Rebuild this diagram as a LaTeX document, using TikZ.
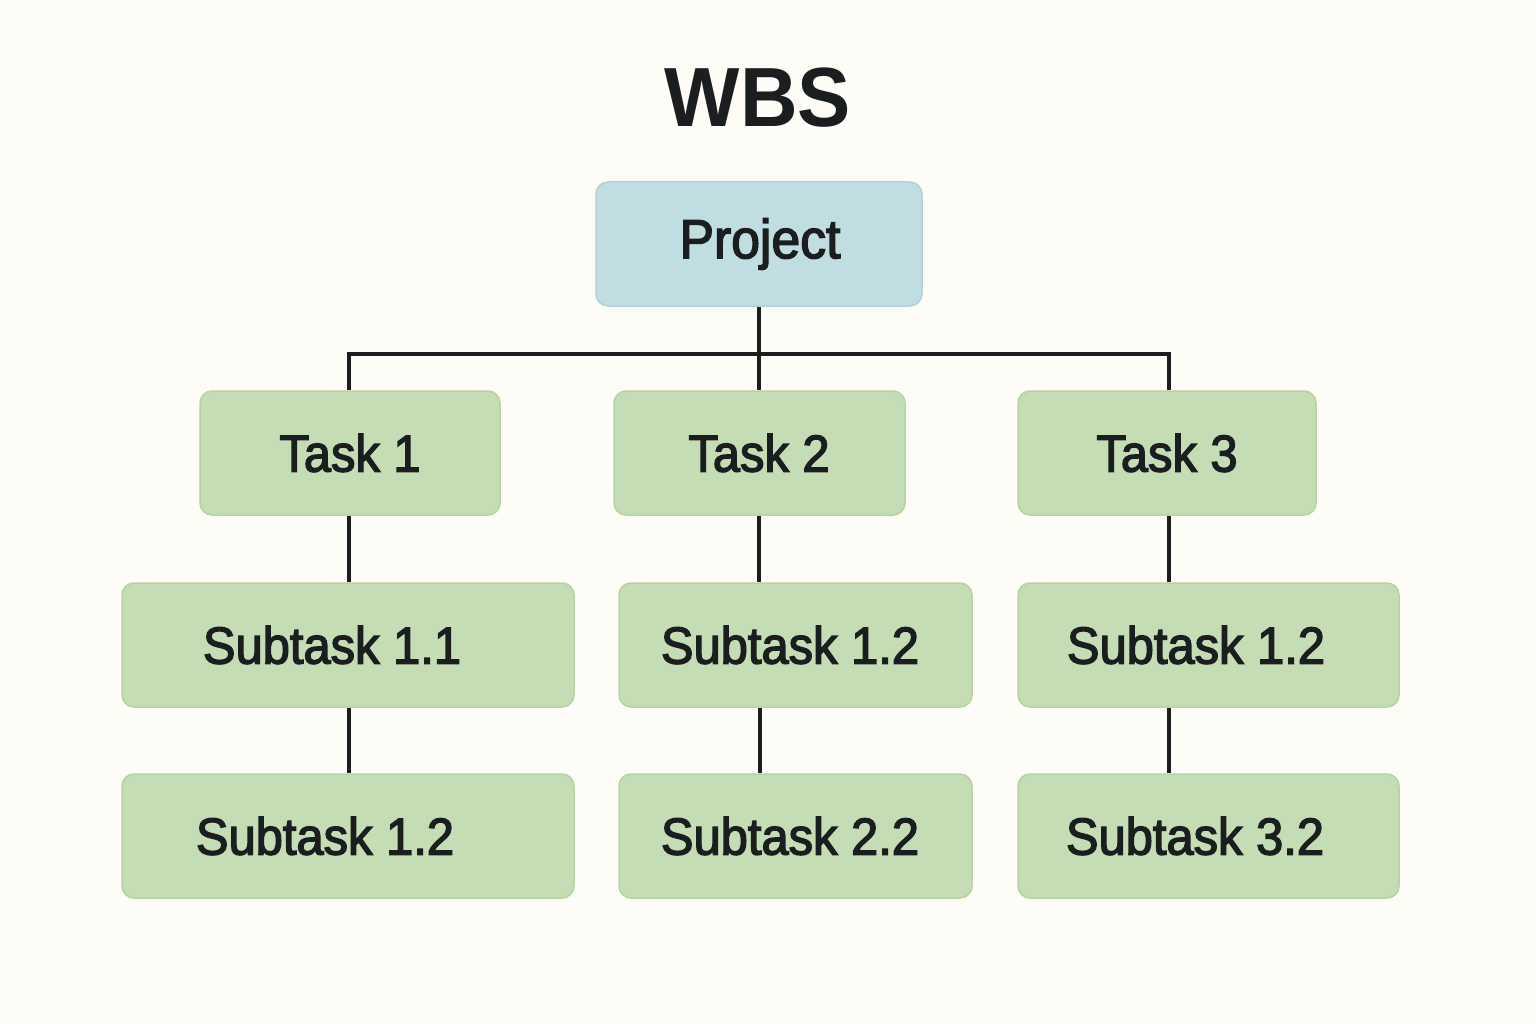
\documentclass[tikz,border=0pt]{standalone}
\usepackage{fontspec}
\setmainfont{Liberation Sans}
\newfontfamily\titlefont[FakeStretch=0.95]{Liberation Sans Bold}
\newfontfamily\lblfont[FakeStretch=0.94,FakeBold=2.6]{Liberation Sans}
\definecolor{bg}{HTML}{FDFCF6}
\definecolor{projfill}{HTML}{C0DDE1}
\definecolor{projline}{HTML}{B0D3D9}
\definecolor{taskfill}{HTML}{C5DDB4}
\definecolor{taskline}{HTML}{B6D3A2}
\definecolor{ink}{HTML}{1A1E1F}
\begin{document}
\begin{tikzpicture}[x=1pt,y=-1pt,
  box/.style={draw=taskline, fill=taskfill, line width=1.5pt, rounded corners=12pt, inner sep=0pt, text=ink},
  proj/.style={box, draw=projline, fill=projfill},
  lbl/.style={font=\lblfont\fontsize{52}{60}\selectfont, text=ink},
  conn/.style={draw=ink, line width=3.6pt}]
\useasboundingbox (0,0) rectangle (1536,1024);
\fill[bg] (0,0) rectangle (1536,1024);
\node[font=\titlefont\fontsize{84}{90}\selectfont, text=ink] (title) at (758,98) {WBS};
% boxes
\node[proj, minimum width=326pt, minimum height=124pt] (p) at (759,244) {};
\node[lbl, font=\lblfont\fontsize{55}{60}\selectfont] (pt) at (760,244) {Project};
\node[box, minimum width=300pt, minimum height=124pt] (t1) at (350,453) {};
\node[box, minimum width=291pt, minimum height=124pt] (t2) at (759.5,453) {};
\node[box, minimum width=298pt, minimum height=124pt] (t3) at (1167,453) {};
\node[box, minimum width=452pt, minimum height=124pt] (s11) at (348,645) {};
\node[box, minimum width=353pt, minimum height=124pt] (s12m) at (795.5,645) {};
\node[box, minimum width=381pt, minimum height=124pt] (s12r) at (1208.5,645) {};
\node[box, minimum width=452pt, minimum height=124pt] (s12l) at (348,836) {};
\node[box, minimum width=353pt, minimum height=124pt] (s22) at (795.5,836) {};
\node[box, minimum width=381pt, minimum height=124pt] (s32) at (1208.5,836) {};
% labels
\node[lbl] (lt1) at (350,453) {Task 1};
\node[lbl] (lt2) at (759,453) {Task 2};
\node[lbl] (lt3) at (1167,453) {Task 3};
\node[lbl] (ls11) at (332,645) {Subtask 1.1};
\node[lbl] (ls12m) at (790,645) {Subtask 1.2};
\node[lbl] (ls12r) at (1196,645) {Subtask 1.2};
\node[lbl] (ls12l) at (325,836) {Subtask 1.2};
\node[lbl] (ls22) at (790,836) {Subtask 2.2};
\node[lbl] (ls32) at (1195,836) {Subtask 3.2};
% connectors
\draw[conn] (p.south) -- (t2.north -| p.south);
\draw[conn] (t1.north -| 349,0) -- (349,354) -- (1169,354) -- (t3.north -| 1169,0);
\draw[conn] (t1.south -| 349,0) -- (s11.north -| 349,0);
\draw[conn] (t2.south -| 759,0) -- (s12m.north -| 759,0);
\draw[conn] (t3.south -| 1169,0) -- (s12r.north -| 1169,0);
\draw[conn] (s11.south -| 349,0) -- (s12l.north -| 349,0);
\draw[conn] (s12m.south -| 760,0) -- (s22.north -| 760,0);
\draw[conn] (s12r.south -| 1169,0) -- (s32.north -| 1169,0);
\end{tikzpicture}
\end{document}
